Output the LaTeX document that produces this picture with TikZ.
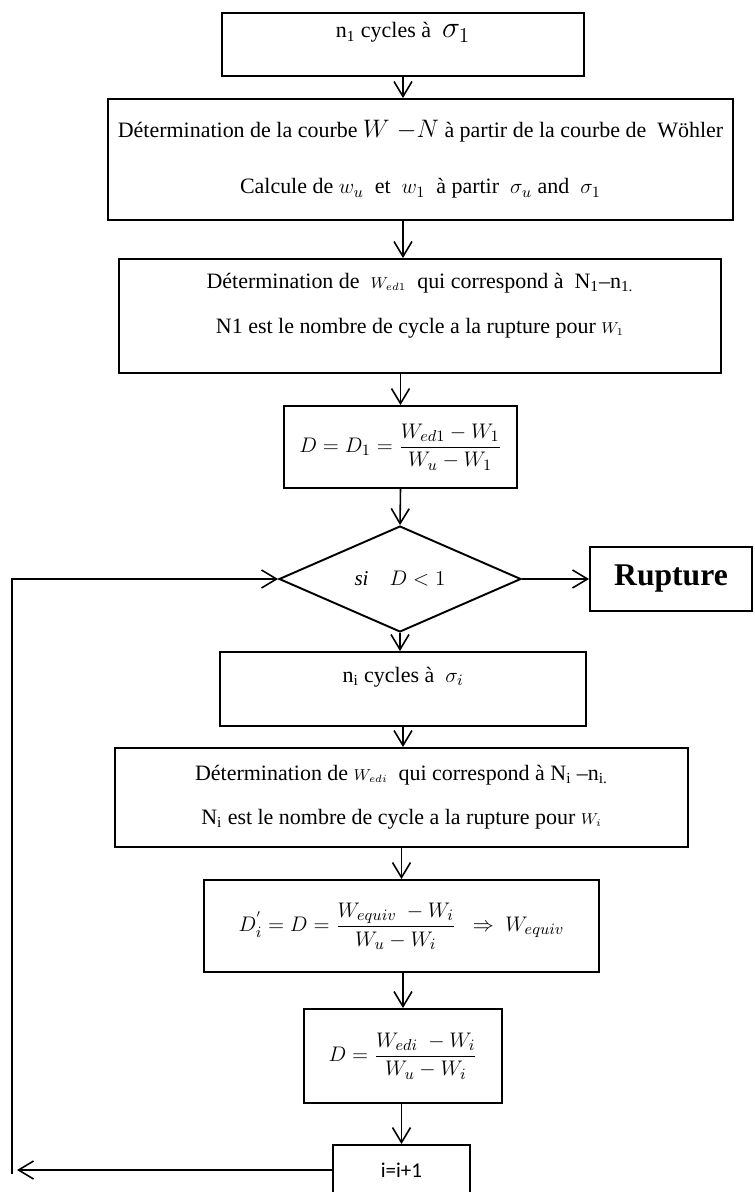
\documentclass[tikz,border=0pt]{standalone}
\usepackage{amsmath,amssymb}
\usepackage{fontspec}
\setmainfont{Liberation Serif}
\newfontfamily\calibri{Carlito}
\usetikzlibrary{shapes.geometric,arrows.meta}

\begin{document}
\begin{tikzpicture}[x=0.02cm, y=-0.02cm,
    box/.style={draw, line width=1.1pt, align=center, inner sep=0pt,
        font=\fontsize{12.5}{15}\selectfont},
    test/.style={draw, diamond, line width=1.1pt, inner sep=0pt,
        font=\fontsize{12}{14}\selectfont},
    flow/.style={line width=0.9pt, -{Straight Barb[length=0.3cm, width=0.36cm]}}]
    \useasboundingbox (0,0) rectangle (754,1192);

    % steps
    \node[box, minimum width=7.24cm, minimum height=1.26cm, text height=0.32cm, text depth=0.58cm] (n1box) at (403,44.5)
        {n\textsubscript{1} cycles à \ {\fontsize{17}{18}\selectfont$\sigma_1$}};
    \node[box, minimum width=12.5cm, minimum height=2.42cm] (courbe) at (420.5,159.5)
        {Détermination de la courbe {\fontsize{15}{18}\selectfont$W\;{-}N$} à partir de la courbe de \ Wöhler\\[17pt]
         Calcule de $w_u$ \ et \ $w_1$ \ à partir \ $\sigma_u$ and \ $\sigma_1$};
    \node[box, minimum width=12.04cm, minimum height=2.28cm, text depth=0.5cm] (wed1) at (420,316)
        {Détermination de \ $\scriptstyle W_{ed1}$ \ qui correspond à \ N\textsubscript{1}--n\textsubscript{1.}\\[11pt]
         N1 est le nombre de cycle a la rupture pour $\scriptstyle W_1$};
    \node[box, minimum width=4.66cm, minimum height=1.64cm] (d1) at (400.5,447)
        {$D = D_1 = \dfrac{W_{ed1} - W_1}{W_u - W_1}$};
    \node[test, minimum width=4.84cm, minimum height=1.92cm] (test) at (400,579)
        {$\mathit{si} \quad D < 1$};
    \node[box, minimum width=3.24cm, minimum height=1.28cm, font=\fontsize{18}{20}\selectfont\bfseries] (rupture) at (671,579)
        {Rupture};
    \node[box, minimum width=7.32cm, minimum height=1.48cm, text height=0.3cm, text depth=0.56cm] (nibox) at (403,689)
        {n\textsubscript{i} cycles à \ $\sigma_i$};
    \node[box, minimum width=11.46cm, minimum height=1.98cm] (wedi) at (401.5,797.5)
        {Détermination de $\scriptstyle W_{edi}$ \ qui correspond à N\textsubscript{i} --n\textsubscript{i.}\\[10pt]
         N\textsubscript{i} est le nombre de cycle a la rupture pour $\scriptstyle W_i$};
    \node[box, minimum width=7.9cm, minimum height=1.84cm] (dprime) at (401.5,926)
        {$D_i^{'} = D = \dfrac{W_{equiv} \ - W_i}{W_u - W_i} \ \ \Rightarrow \ W_{equiv}$};
    \node[box, minimum width=3.96cm, minimum height=1.88cm] (dnext) at (403,1056)
        {$D = \dfrac{W_{edi} \ - W_i}{W_u - W_i}$};
    \node[box, minimum width=2.74cm, minimum height=1.0cm, font=\calibri\fontsize{12}{14}\selectfont] (incr) at (401.5,1170)
        {i=i+1};

    \coordinate (loopend) at (17,1170);
    \coordinate (loopstart) at (12,1174);

    % arrows
    \draw[flow] (n1box.south) -- (n1box.south |- courbe.north);
    \draw[flow] (courbe.south -| n1box) -- (wed1.north -| n1box);
    \draw[flow] (wed1.south -| d1) -- (d1.north);
    \draw[flow] (d1.south) -- (test.north);
    \draw[flow] (test.east) -- (rupture.west);
    \draw[flow] (test.south) -- (test.south |- nibox.north);
    \draw[flow] (nibox.south) -- (nibox.south |- wedi.north);
    \draw[flow] (wedi.south -| dprime) -- (dprime.north);
    \draw[flow] (dprime.south -| dnext) -- (dnext.north);
    \draw[flow] (dnext.south -| incr) -- (incr.north);

    % loop back
    \draw[flow] (incr.west) -- (loopend);
    \draw[flow] (loopstart) |- (test.west);
\end{tikzpicture}
\end{document}
